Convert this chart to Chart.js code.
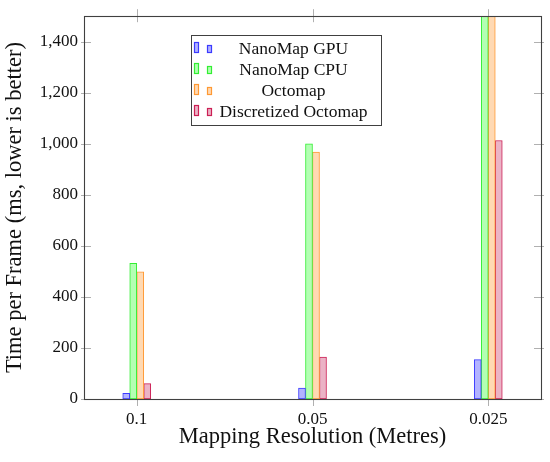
<!DOCTYPE html>
<html>
<head>
<meta charset="utf-8">
<script src="https://cdn.jsdelivr.net/npm/chart.js@4.4.1/dist/chart.umd.min.js"></script>
<style>
  html, body { margin: 0; padding: 0; background: #fff; }
  #wrap { width: 550px; height: 462px; position: relative; }
</style>
</head>
<body>
<div id="wrap"><canvas id="barChart"></canvas></div>
<script>
// resolutions on the x axis
var resolutions = ['0.1', '0.05', '0.025'];
// time per frame in ms (CPU / Octomap at 0.025 run off the top of the plot)
var nanoMapGpu = [22, 43, 154];
var nanoMapCpu = [532, 1000, 1900];
var octomap = [498, 968, 1850];
var discretizedOctomap = [60, 164, 1013];
var yTicks = [0, 200, 400, 600, 800, 1000, 1200, 1400];

var serif = "'Liberation Serif', 'DejaVu Serif', serif";

function makeSet(label, values, line, fill) {
    return {
        label: label,
        data: values.map(function (v, i) { return { x: i, y: v }; }),
        borderColor: line,
        backgroundColor: fill,
        borderWidth: 1,
        borderSkipped: false,
        barThickness: 7
    };
}

// box round the plot plus pgfplots style tick marks
var frame = {
    id: 'frame',
    beforeDatasetsDraw: function (chart) {
        const ctx = chart.ctx, a = chart.chartArea;
        const xs = chart.scales.x, ys = chart.scales.y;
        ctx.save();
        ctx.strokeStyle = '#b0b0b0';
        ctx.lineWidth = 1;
        ctx.beginPath();
        ys.ticks.forEach(function (t) {
            const y = Math.round(ys.getPixelForValue(t.value)) + 0.5;
            ctx.moveTo(a.left - 3, y); ctx.lineTo(a.left + 7, y);
            ctx.moveTo(a.right - 7, y); ctx.lineTo(a.right + 3, y);
        });
        xs.ticks.forEach(function (t) {
            const x = Math.round(xs.getPixelForValue(t.value)) + 0.5;
            ctx.moveTo(x, a.bottom - 6); ctx.lineTo(x, a.bottom + 7);
            ctx.moveTo(x, a.top - 7); ctx.lineTo(x, a.top + 6);
        });
        ctx.stroke();
        ctx.restore();
    },
    afterDatasetsDraw: function (chart) {
        const ctx = chart.ctx, a = chart.chartArea;
        ctx.save();
        ctx.strokeStyle = '#404040';
        ctx.lineWidth = 1.1;
        ctx.strokeRect(Math.round(a.left) + 0.5, Math.round(a.top) + 0.5,
            Math.round(a.right - a.left), Math.round(a.bottom - a.top));
        ctx.restore();
    }
};

// legend box inside the plot, like the pgfplots one
var boxLegend = {
    id: 'boxLegend',
    afterDraw: function (chart) {
        const ctx = chart.ctx;
        const left = 191, top = 35, w = 190, rowH = 21;
        ctx.save();
        ctx.fillStyle = '#fff';
        ctx.fillRect(left, top, w, 90);
        ctx.strokeStyle = '#404040';
        ctx.lineWidth = 1;
        ctx.strokeRect(left + 0.5, top + 0.5, w, 90);
        ctx.font = '17.5px ' + serif;
        ctx.textAlign = 'center';
        ctx.textBaseline = 'middle';
        chart.data.datasets.forEach(function (ds, i) {
            const cy = top + 13 + i * rowH;
            ctx.lineWidth = 1.2;
            ctx.fillStyle = ds.backgroundColor;
            ctx.strokeStyle = ds.borderColor;
            ctx.fillRect(left + 3.5, cy - 5.5, 4, 10);
            ctx.strokeRect(left + 3.5, cy - 5.5, 4, 10);
            ctx.fillRect(left + 16.5, cy - 2.5, 4, 7);
            ctx.strokeRect(left + 16.5, cy - 2.5, 4, 7);
            ctx.fillStyle = '#111';
            ctx.fillText(ds.label, 293.5, cy + 1);
        });
        ctx.restore();
    }
};

new Chart(document.getElementById('barChart'), {
    type: 'bar',
    data: {
        datasets: [
            makeSet('NanoMap GPU', nanoMapGpu, '#3b3bff', '#b3b3ff'),
            makeSet('NanoMap CPU', nanoMapCpu, '#33ee33', '#b3ffb3'),
            makeSet('Octomap', octomap, '#ff9933', '#ffd9b3'),
            makeSet('Discretized Octomap', discretizedOctomap, '#cc1f55', '#ebb3c6')
        ]
    },
    options: {
        responsive: true,
        maintainAspectRatio: false,
        animation: false,
        layout: { padding: { left: 0, right: 9, top: 15, bottom: 0 } },
        plugins: {
            legend: { display: false },
            tooltip: { enabled: false }
        },
        scales: {
            x: {
                type: 'linear',
                offset: false,
                min: -0.3,
                max: resolutions.length - 0.7,
                afterBuildTicks: function (s) {
                    s.ticks = resolutions.map(function (r, i) { return { value: i }; });
                },
                grid: { display: false, drawTicks: false },
                border: { display: false },
                ticks: {
                    padding: 10,
                    color: '#111',
                    font: { family: serif, size: 17 },
                    callback: function (v) { return resolutions[v]; }
                },
                title: {
                    display: true,
                    text: 'Mapping Resolution (Metres)',
                    color: '#111',
                    font: { family: serif, size: 22.5 },
                    padding: { top: 0, bottom: 11 }
                },
                afterFit: function (s) { s.height = 63; }
            },
            y: {
                min: 0,
                max: 1500,
                afterBuildTicks: function (s) {
                    s.ticks = yTicks.map(function (v) { return { value: v }; });
                },
                grid: { display: false, drawTicks: false },
                border: { display: false },
                ticks: {
                    padding: 6,
                    color: '#111',
                    font: { family: serif, size: 17 },
                    callback: function (v) { return v.toLocaleString('en-US'); }
                },
                title: {
                    display: true,
                    text: 'Time per Frame (ms, lower is better)',
                    color: '#111',
                    font: { family: serif, size: 22.5 },
                    padding: { top: 2, bottom: 0 }
                },
                afterFit: function (s) { s.width = 84; }
            }
        }
    },
    plugins: [frame, boxLegend]
});
</script>
</body>
</html>
